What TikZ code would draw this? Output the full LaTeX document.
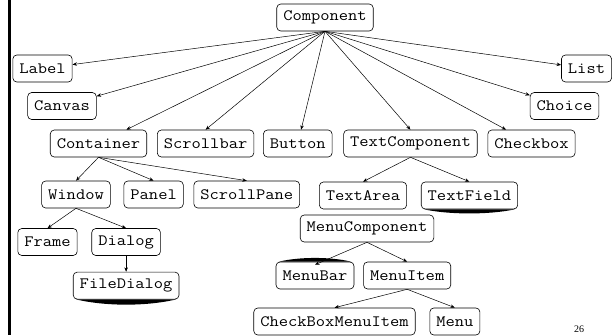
\documentclass[tikz,border=0pt]{standalone}
\usepackage{fontspec}
\setmainfont{Liberation Serif}
\setmonofont{Latin Modern Mono}[FakeStretch=1.14]
\usetikzlibrary{positioning,arrows.meta}

\begin{document}
\begin{tikzpicture}[
  x=1pt,y=-1pt,
  node distance=10pt,
  cls/.style={draw,line width=0.6pt,rounded corners=4pt,minimum height=27pt,
    inner xsep=6.5pt,font=\fontsize{15.8}{18}\selectfont\ttfamily},
  every edge/.style={draw,line width=0.5pt,-{Stealth[length=4.5pt,width=3.5pt]}},
  lens/.style={fill=black},
]
  \useasboundingbox (0,0) rectangle (613,335);
  \draw[line width=2.5pt] (9.5,0) -- (9.5,335);

  % Root
  \node[cls] (comp) at (325,17.5) {Component};

  % Side leaves
  \node[cls] (label) at (42.5,68.5) {Label};
  \node[cls] (list) at (586.5,68.5) {List};
  \node[cls] (canvas) at (62,106) {Canvas};
  \node[cls] (choice) at (564.5,106) {Choice};

  % Second row
  \node[cls] (cont) at (98.5,143.5) {Container};
  \node[cls,right=10pt of cont] (sbar) {Scrollbar};
  \node[cls,right=9pt of sbar] (button) {Button};
  \node[cls,right=11pt of button] (tcomp) {TextComponent};
  \node[cls,right=10pt of tcomp] (cbox) {Checkbox};

  % Container children
  \node[cls] (window) at (76,194.5) {Window};
  \node[cls,right=13pt of window] (panel) {Panel};
  \node[cls,right=10pt of panel] (spane) {ScrollPane};
  \node[cls] (frame) at (47.5,242) {Frame};
  \node[cls,right=14pt of frame] (dialog) {Dialog};
  \node[cls,below=16pt of dialog] (fdialog) {FileDialog};

  % Text children
  \node[cls] (tarea) at (363,195.5) {TextArea};
  \node[cls,right=14pt of tarea] (tfield) {TextField};

  % Menus
  \node[cls] (mcomp) at (367,228.5) {MenuComponent};
  \node[cls] (mbar) at (315,275.5) {MenuBar};
  \node[cls,right=9pt of mbar] (mitem) {MenuItem};
  \node[cls] (cbmitem) at (334.5,321.5) {CheckBoxMenuItem};
  \node[cls,right=14pt of cbmitem] (menu) {Menu};

  \node[font=\fontsize{10}{12}\selectfont] (page) at (579,329) {26};

  % Lens marks
  \fill[lens] ([xshift=3pt]fdialog.south west) .. controls +(30,7) and +(-30,7) .. ([xshift=-3pt]fdialog.south east) -- cycle;
  \fill[lens] ([xshift=3pt]tfield.south west) .. controls +(25,5.5) and +(-25,5.5) .. ([xshift=-3pt]tfield.south east) -- cycle;
  \fill[lens] ([xshift=3pt]mbar.north west) .. controls +(20,-5) and +(-20,-5) .. ([xshift=-3pt]mbar.north east) -- cycle;

  % Edges: Component
  \path (comp.south) edge (label);
  \path (comp.south) edge (canvas);
  \path (comp.south) edge (cont);
  \path (comp.south) edge (sbar.north);
  \path (comp.south) edge (button);
  \path (comp.south) edge (tcomp.north);
  \path (comp.south) edge (cbox);
  \path (comp.south) edge (choice);
  \path (comp.south) edge (list);

  % Edges: Container
  \path (cont.south) edge (window.north);
  \path (cont.south) edge (panel.north);
  \path (cont.south) edge (spane.north);
  \path (window.south) edge (frame.north);
  \path (window.south) edge (dialog.north);
  \path (dialog.south) edge (fdialog.north);

  % Edges: TextComponent
  \path (tcomp.south) edge (tarea.north);
  \path (tcomp.south) edge (tfield.north);

  % Edges: MenuComponent
  \path (mcomp.south) edge ([yshift=-3pt]mbar.north);
  \path (mcomp.south) edge (mitem.north);
  \path (mitem.south) edge (cbmitem.north);
  \path (mitem.south) edge (menu.north);
\end{tikzpicture}
\end{document}
